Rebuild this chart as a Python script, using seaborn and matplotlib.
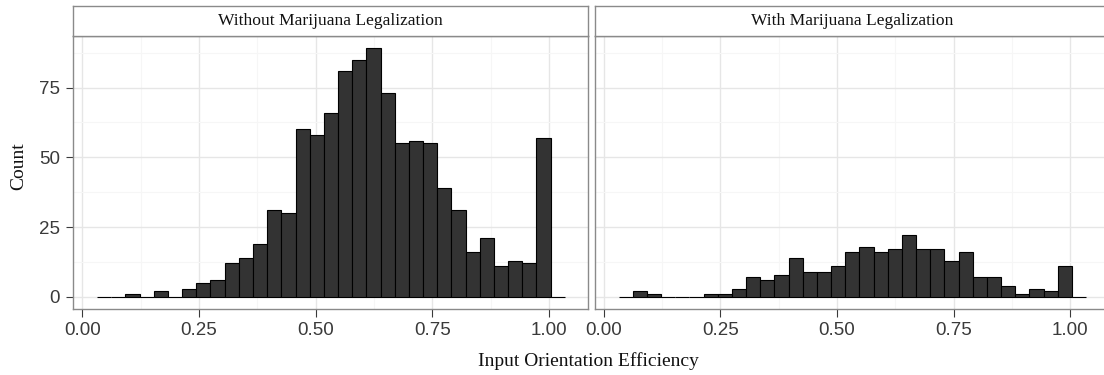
import numpy as np
import pandas as pd
import matplotlib
matplotlib.use("Agg")
import matplotlib.pyplot as plt
import seaborn as sns

# Histogram counts per bin for each group
counts_without = [0, 0, 1, 0, 2, 0, 3, 5, 6, 12, 14, 19, 31, 30, 60, 58, 66, 81,
                  85, 89, 73, 55, 56, 55, 39, 31, 16, 21, 11, 13, 12, 57, 0]
counts_with = [0, 2, 1, 0, 0, 0, 1, 1, 3, 7, 6, 8, 14, 9, 9, 11, 16, 18, 16, 17,
               22, 17, 17, 13, 16, 7, 7, 4, 1, 3, 2, 11, 0]
panel_titles = ["Without Marijuana Legalization", "With Marijuana Legalization"]
x_ticks = [0.0, 0.25, 0.50, 0.75, 1.0]
x_tick_labels = ["0.00", "0.25", "0.50", "0.75", "1.00"]
y_ticks = [0, 25, 50, 75]

bin_start = 0.0318
bin_width = 0.03036
n_bins = len(counts_without)
bin_end = bin_start + bin_width * n_bins
centers = bin_start + bin_width * (np.arange(n_bins) + 0.5)

sns.set_theme(style="white")
plt.rcParams["font.family"] = ["Liberation Sans", "DejaVu Sans"]

W, H = 1104, 375
fig = plt.figure(figsize=(W / 100, H / 100), dpi=100)

def fx(px):
    return px / W

def fy(py):
    return 1 - py / H

panel_left = [73.3, 594.7]
panel_w = 515.0
panel_top, panel_bot = 36.0, 309.3
strip_top = 6.0

serif = ["Liberation Serif", "DejaVu Serif"]
border = "#8a8a8a"
tick_col = "#3a3a3a"

for i, (title, counts) in enumerate(zip(panel_titles, [counts_without, counts_with])):
    ax = fig.add_axes([fx(panel_left[i]), fy(panel_bot), panel_w / W,
                       (panel_bot - panel_top) / H])
    df = pd.DataFrame({"efficiency": centers, "count": counts})
    ax.set_axisbelow(True)
    sns.histplot(data=df, x="efficiency", weights="count", bins=n_bins,
                 binrange=(bin_start, bin_end), ax=ax,
                 color="#333333", edgecolor="black", linewidth=0.8, alpha=1)
    ax.set_xlim(-0.0193, 1.0842)
    ax.set_ylim(-4.45, 93.45)
    ax.set_xticks(x_ticks)
    ax.set_xticks([0.125, 0.375, 0.625, 0.875], minor=True)
    ax.set_yticks(y_ticks)
    ax.set_yticks([12.5, 37.5, 62.5, 87.5], minor=True)
    ax.grid(which="major", color="#e6e6e6", linewidth=1.0)
    ax.grid(which="minor", color="#f6f6f6", linewidth=0.8)
    ax.set_xticklabels(x_tick_labels)
    ax.tick_params(axis="x", which="major", length=5.4, width=0.8, color=tick_col,
                   labelsize=13.5, labelcolor=tick_col, pad=4, direction="out",
                   bottom=True)
    ax.tick_params(which="minor", length=0)
    if i == 0:
        ax.tick_params(axis="y", which="major", length=5.4, width=0.8, color=tick_col,
                       labelsize=13.5, labelcolor=tick_col, pad=4, left=True)
    else:
        ax.tick_params(axis="y", which="major", left=False, labelleft=False)
    ax.set_xlabel("")
    ax.set_ylabel("")
    for sp in ax.spines.values():
        sp.set_color(border)
        sp.set_linewidth(1.0)

    sax = fig.add_axes([fx(panel_left[i]), fy(panel_top), panel_w / W,
                        (panel_top - strip_top) / H])
    sax.set_facecolor("white")
    sax.set_xticks([])
    sax.set_yticks([])
    for sp in sax.spines.values():
        sp.set_color(border)
        sp.set_linewidth(1.0)
    sax.text(0.5, 0.5, title, ha="center", va="center", fontsize=12.6,
             family=serif, color="#111111", transform=sax.transAxes)

fig.text(fx(18.3), fy(166), "Count", rotation=90, ha="center", va="center",
         fontsize=14, family=serif, color="#111111")
fig.text(fx(588.5), fy(361), "Input Orientation Efficiency", ha="center",
         va="center", fontsize=14, family=serif, color="#111111")

fig.savefig("out.png", dpi=100, facecolor="white")
